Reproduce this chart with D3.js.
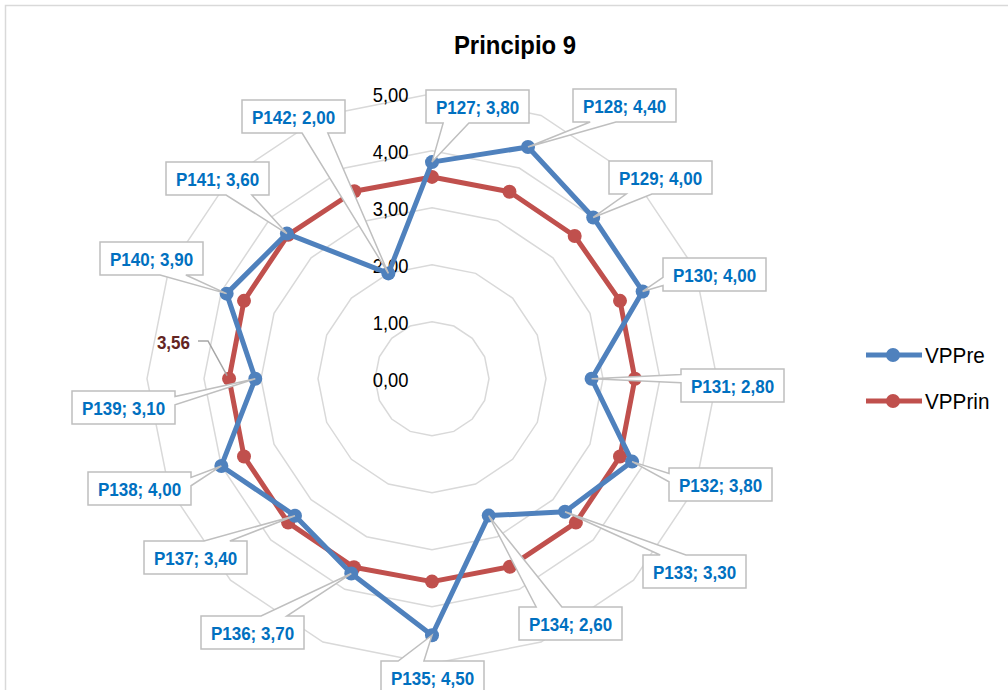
<!DOCTYPE html>
<html>
<head>
<meta charset="utf-8">
<script src="https://cdn.jsdelivr.net/npm/d3@7"></script>
<style>
  body { margin: 0; background: #fff; }
  svg { display: block; }
</style>
</head>
<body>
<svg id="chart" width="1008" height="690"></svg>
<script>
// ---- data ----
const categories = ["P127","P128","P129","P130","P131","P132","P133","P134",
                    "P135","P136","P137","P138","P139","P140","P141","P142"];
const seriesNames = ["VPPre", "VPPrin"];
const vpPre  = [3.80, 4.40, 4.00, 4.00, 2.80, 3.80, 3.30, 2.60,
                4.50, 3.70, 3.40, 4.00, 3.10, 3.90, 3.60, 2.00];
const vpPrin = [3.54, 3.55, 3.54, 3.57, 3.56, 3.57, 3.57, 3.57,
                3.56, 3.58, 3.57, 3.57, 3.56, 3.57, 3.57, 3.56];
const tickValues = [0, 1, 2, 3, 4, 5];
const chartTitle = "Principio 9";

// ---- layout ----
const W = 1008, H = 690;
const cx = 432, cy = 378.7, R = 285;
const colors = { VPPre: "#4F81BD", VPPrin: "#C0504D" };
const squeeze = 0.92;            // horizontal condensing of all text
// top-left corners of the callout boxes, one per category (VPPre labels)
const calloutPos = [[426,90],[573,89],[609,161],[663,258],[681,369],[669,468],[643,555],[519,607],
                    [381,661],[201,616],[144,541],[88,472],[72,391],[100,242],[166,162],[242,100]];
const boxW = 103, boxH = 33;

const fmt = v => d3.format(".2f")(v).replace(".", ",");

const svg = d3.select("#chart");
svg.append("rect").attr("width", W).attr("height", H).attr("fill", "#fff");
// chart frame (only top and left edges fall inside the page)
svg.append("rect").attr("x", 5.5).attr("y", 5.5).attr("width", W + 20).attr("height", H + 20)
   .attr("fill", "none").attr("stroke", "#D9D9D9").attr("stroke-width", 1.5);

const r = d3.scaleLinear().domain([0, 5]).range([0, R]);
const angle = d3.scaleLinear().domain([0, categories.length]).range([0, 2 * Math.PI]);
const px = (i, v) => cx + r(v) * Math.sin(angle(i));
const py = (i, v) => cy - r(v) * Math.cos(angle(i));

// condensed text helper
function label(parent, x, y, txt, opts) {
  const g = parent.append("g").attr("transform", `translate(${x},${y}) scale(${squeeze},1)`);
  return g.append("text")
    .attr("font-family", "'Liberation Sans', Arial, sans-serif")
    .attr("font-size", opts.size)
    .attr("font-weight", opts.weight || "normal")
    .attr("fill", opts.fill || "#000")
    .attr("text-anchor", opts.anchor || "start")
    .attr("dominant-baseline", "central")
    .text(txt);
}

// ---- title ----
label(svg, 515, 45, chartTitle, { size: 26, weight: "bold", anchor: "middle" });

const plot = svg.append("g");

// ---- grid rings ----
const ringLine = d3.lineRadial()
  .angle((d, i) => angle(i))
  .radius(d => r(d))
  .curve(d3.curveLinearClosed);
plot.append("g").attr("transform", `translate(${cx},${cy})`)
  .selectAll("path").data(tickValues.filter(t => t > 0)).join("path")
  .attr("d", t => ringLine(categories.map(() => t)))
  .attr("fill", "none").attr("stroke", "#D9D9D9").attr("stroke-width", 1.5);

// ---- value axis labels ----
tickValues.forEach(t => {
  label(plot, 408.5, cy - r(t) + 2, fmt(t), { size: 20, anchor: "end" });
});

// ---- series ----
const seriesLine = d3.lineRadial()
  .angle((d, i) => angle(i))
  .radius(d => r(d))
  .curve(d3.curveLinearClosed);
[["VPPrin", vpPrin], ["VPPre", vpPre]].forEach(([name, vals]) => {
  const g = plot.append("g").attr("transform", `translate(${cx},${cy})`);
  g.append("path").attr("d", seriesLine(vals))
    .attr("fill", "none").attr("stroke", colors[name]).attr("stroke-width", 5)
    .attr("stroke-linejoin", "round");
  g.selectAll("circle").data(vals).join("circle")
    .attr("cx", (d, i) => r(d) * Math.sin(angle(i)))
    .attr("cy", (d, i) => -r(d) * Math.cos(angle(i)))
    .attr("r", 7).attr("fill", colors[name]);
});

// ---- callout data labels (wedge rectangle pointing at the marker) ----
function calloutPath(x, y, w, h, tx, ty) {
  const mx = x + w / 2, my = y + h / 2;
  const dx = tx - mx, dy = ty - my;
  if (Math.abs(dy) / h > Math.abs(dx) / w) {
    const a = x + w * (dx > 0 ? 7 : 2) / 12, b = x + w * (dx > 0 ? 10 : 5) / 12;
    if (dy > 0) return `M${x},${y}H${x + w}V${y + h}H${b}L${tx},${ty}L${a},${y + h}H${x}Z`;
    return `M${x},${y}H${a}L${tx},${ty}L${b},${y}H${x + w}V${y + h}H${x}Z`;
  } else {
    const a = y + h * (dy > 0 ? 7 : 2) / 12, b = y + h * (dy > 0 ? 10 : 5) / 12;
    if (dx > 0) return `M${x},${y}H${x + w}V${a}L${tx},${ty}L${x + w},${b}V${y + h}H${x}Z`;
    return `M${x},${y}H${x + w}V${y + h}H${x}V${b}L${tx},${ty}L${x},${a}Z`;
  }
}
const labels = svg.append("g");
categories.forEach((c, i) => {
  const [bx, by] = calloutPos[i];
  const tx = px(i, vpPre[i]), ty = py(i, vpPre[i]);
  labels.append("path")
    .attr("d", calloutPath(bx, by, boxW, boxH, tx, ty))
    .attr("fill", "#fff").attr("stroke", "#BFBFBF").attr("stroke-width", 1.5)
    .attr("stroke-linejoin", "miter");
  label(labels, bx + boxW / 2, by + boxH / 2 + 1, `${c}; ${fmt(vpPre[i])}`,
        { size: 18.5, weight: "bold", fill: "#0070C0", anchor: "middle" });
});

// single VPPrin value label with its leader line (P139)
const li = categories.indexOf("P139");
const lx = px(li, vpPrin[li]), ly = py(li, vpPrin[li]);
labels.append("polyline")
  .attr("points", `${198},${341} ${208},${341} ${lx - 2},${ly - 3}`)
  .attr("fill", "none").attr("stroke", "#A6A6A6").attr("stroke-width", 1.5);
label(labels, 190, 343, fmt(vpPrin[li]), { size: 18.5, weight: "bold", fill: "#632523", anchor: "end" });

// ---- legend ----
const legend = svg.append("g");
seriesNames.forEach((name, k) => {
  const ly2 = 355 + k * 46;
  legend.append("line").attr("x1", 866).attr("x2", 922).attr("y1", ly2).attr("y2", ly2)
    .attr("stroke", colors[name]).attr("stroke-width", 5);
  legend.append("circle").attr("cx", 893).attr("cy", ly2).attr("r", 7).attr("fill", colors[name]);
  label(legend, 925, ly2, name, { size: 22.5 });
});
</script>
</body>
</html>
